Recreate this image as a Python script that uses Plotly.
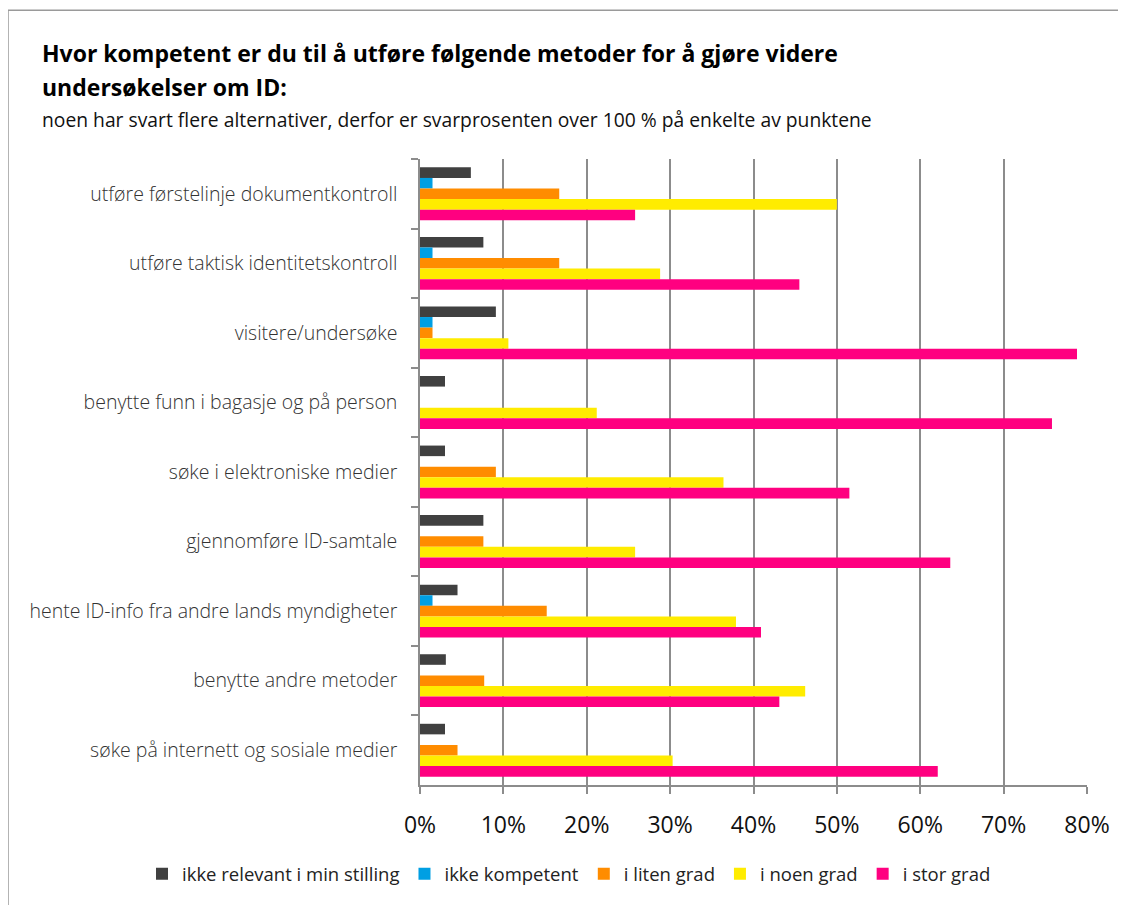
import plotly.graph_objects as go

# survey answers, percent of respondents (some picked several options)
categories = [
    "utføre førstelinje dokumentkontroll",
    "utføre taktisk identitetskontroll",
    "visitere/undersøke",
    "benytte funn i bagasje og på person",
    "søke i elektroniske medier",
    "gjennomføre ID-samtale",
    "hente ID-info fra andre lands myndigheter",
    "benytte andre metoder",
    "søke på internett og sosiale medier",
]
ikke_relevant = [6.1, 7.6, 9.1, 3.0, 3.0, 7.6, 4.5, 3.1, 3.0]
ikke_kompetent = [1.5, 1.5, 1.5, 0, 0, 0, 1.5, 0, 0]
liten_grad = [16.7, 16.7, 1.5, 0, 9.1, 7.6, 15.2, 7.7, 4.5]
noen_grad = [50.0, 28.8, 10.6, 21.2, 36.4, 25.8, 37.9, 46.2, 30.3]
stor_grad = [25.8, 45.5, 78.8, 75.8, 51.5, 63.6, 40.9, 43.1, 62.1]

series = [
    ("ikke relevant i min stilling", ikke_relevant, "#404040"),
    ("ikke kompetent", ikke_kompetent, "#009FE3"),
    ("i liten grad", liten_grad, "#FF8C00"),
    ("i noen grad", noen_grad, "#FFEC00"),
    ("i stor grad", stor_grad, "#FF0080"),
]

# the page body adds an 8px margin, so screen pixel = figure pixel + 8
OFF = 8
W, H = 1126 - OFF, 905 - OFF
PL, PR, PT, PB = 420 - OFF, 1087 - OFF, 159 - OFF, 790 - OFF


def fx(p):
    # screen x pixel -> paper
    return (p - OFF - PL) / (PR - PL)


def fy(p):
    # screen y pixel -> paper
    return (PB - (p - OFF)) / (PB - PT)


FONT = "'Open Sans', sans-serif"
GRID = "#8c8c8c"

fig = go.Figure()
for name, vals, col in series:
    fig.add_trace(go.Bar(
        y=categories, x=vals, name=name, orientation="h",
        marker=dict(color=col, line=dict(width=0)),
    ))

fig.update_layout(
    width=W, height=H,
    margin=dict(l=PL, r=W - PR, t=PT, b=H - PB),
    paper_bgcolor="white", plot_bgcolor="white",
    barmode="group", bargap=0.24, bargroupgap=0,
    font=dict(family=FONT, color="#222"),
    showlegend=True,
    legend=dict(
        orientation="h", xref="paper", yref="paper",
        x=fx(142), xanchor="left", y=fy(880), yanchor="middle",
        font=dict(size=18.5, color="#222"), traceorder="normal",
    ),
)

fig.update_xaxes(
    range=[0, 80], dtick=10, ticksuffix="%",
    showgrid=True, gridcolor=GRID, gridwidth=1.5,
    showline=True, linecolor=GRID, linewidth=1.5,
    ticks="outside", ticklen=7, tickcolor=GRID, tickwidth=1.5,
    tickfont=dict(size=23, color="#111"), ticklabelstandoff=12,
    zeroline=False,
)
fig.update_yaxes(
    autorange="reversed", type="category",
    showline=True, linecolor=GRID, linewidth=1.5,
    ticks="outside", ticklen=7, tickcolor=GRID, tickwidth=1.5,
    tickson="boundaries",
    tickfont=dict(size=19.5, color="#333", weight=300), ticklabelstandoff=17,
    showgrid=False,
)

# title lines and subtitle
fig.add_annotation(
    text="<b>Hvor kompetent er du til å utføre følgende metoder for å gjøre videre</b>",
    xref="paper", yref="paper", x=fx(40), y=fy(52), xanchor="left", yanchor="middle",
    showarrow=False, font=dict(size=23, color="#000"),
)
fig.add_annotation(
    text="<b>undersøkelser om ID:</b>",
    xref="paper", yref="paper", x=fx(40), y=fy(86), xanchor="left", yanchor="middle",
    showarrow=False, font=dict(size=23, color="#000"),
)
fig.add_annotation(
    text="noen har svart flere alternativer, derfor er svarprosenten over 100 % på enkelte av punktene",
    xref="paper", yref="paper", x=fx(40), y=fy(119), xanchor="left", yanchor="middle",
    showarrow=False, font=dict(size=19.3, color="#111"),
)

# outer frame
fig.add_shape(
    type="rect", xref="paper", yref="paper",
    x0=fx(8), x1=fx(1150), y0=fy(9), y1=fy(930),
    line=dict(color="#9a9a9a", width=1.5), layer="below",
)

fig.write_html("out.html")
